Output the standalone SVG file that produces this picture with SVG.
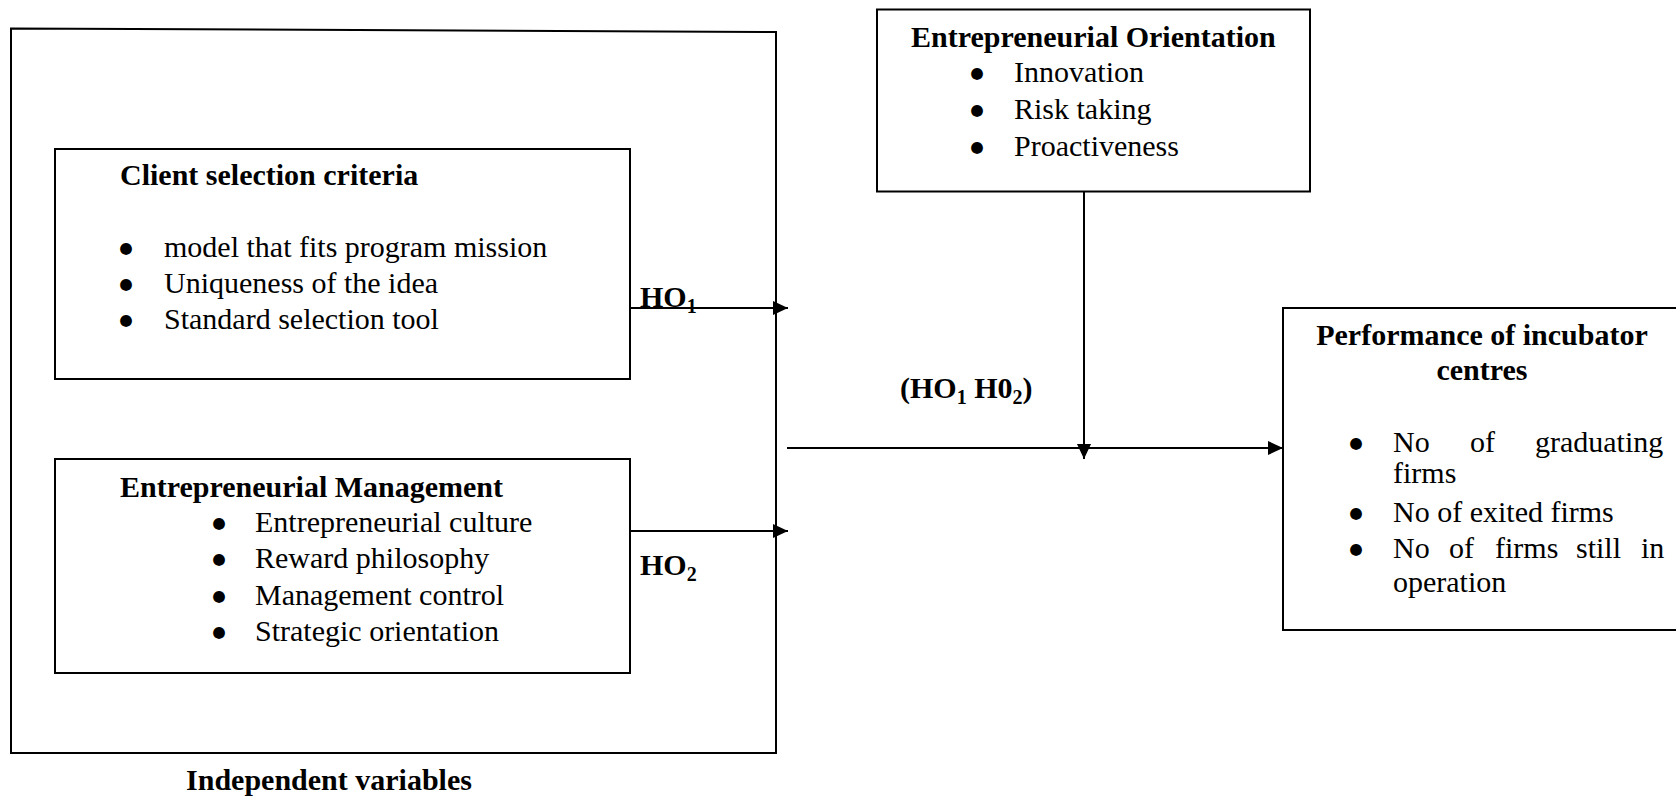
<svg xmlns="http://www.w3.org/2000/svg" width="1676" height="800" viewBox="0 0 1676 800">
  <style>
    text { font-family: "Liberation Serif", "Times New Roman", serif; font-size: 30px; fill: #000; }
    .b { font-weight: bold; }
    .sub { font-size: 20px; }
    .mid { text-anchor: middle; }
    .bul { font-family: "DejaVu Sans", sans-serif; font-size: 15.5px; text-anchor: middle; }
    .box { fill: #fff; stroke: #000; stroke-width: 2; }
    .frame { fill: none; stroke: #000; stroke-width: 2; }
    .link { fill: none; stroke: #000; stroke-width: 2; }
  </style>
  <defs>
    <marker id="arrow" markerUnits="userSpaceOnUse" markerWidth="16" markerHeight="14" refX="15" refY="7" orient="auto">
      <path d="M0,0 L15,7 L0,14 Z" fill="#000"/>
    </marker>
  </defs>

  <rect width="1676" height="800" fill="#fff"/>

  <!-- Independent variables frame -->
  <g id="independent-variables">
    <path class="frame" d="M11,28.5 L776,32 L776,753 L11,753 Z"/>
    <text class="b mid" x="329" y="790">Independent variables</text>
  </g>

  <!-- Client selection criteria -->
  <g id="client-selection">
    <rect class="box" x="55" y="149" width="575" height="230"/>
    <text class="b" x="120" y="185">Client selection criteria</text>
    <text class="bul" x="126" y="253">●</text>
    <text x="164" y="257">model that fits program mission</text>
    <text class="bul" x="126" y="289">●</text>
    <text x="164" y="293">Uniqueness of the idea</text>
    <text class="bul" x="126" y="325">●</text>
    <text x="164" y="329">Standard selection tool</text>
  </g>

  <!-- Entrepreneurial Management -->
  <g id="entrepreneurial-management">
    <rect class="box" x="55" y="459" width="575" height="214"/>
    <text class="b" x="120" y="497">Entrepreneurial Management</text>
    <text class="bul" x="219" y="528">●</text>
    <text x="255" y="532">Entrepreneurial culture</text>
    <text class="bul" x="219" y="564">●</text>
    <text x="255" y="568">Reward philosophy</text>
    <text class="bul" x="219" y="601">●</text>
    <text x="255" y="605">Management control</text>
    <text class="bul" x="219" y="637">●</text>
    <text x="255" y="641">Strategic orientation</text>
  </g>

  <!-- Entrepreneurial Orientation (moderator) -->
  <g id="entrepreneurial-orientation">
    <rect class="box" x="877" y="9.5" width="433" height="182"/>
    <text class="b" x="911" y="47">Entrepreneurial Orientation</text>
    <text class="bul" x="977" y="78">●</text>
    <text x="1014" y="82">Innovation</text>
    <text class="bul" x="977" y="115">●</text>
    <text x="1014" y="119">Risk taking</text>
    <text class="bul" x="977" y="152">●</text>
    <text x="1014" y="156">Proactiveness</text>
  </g>

  <!-- Performance of incubator centres -->
  <g id="performance">
    <rect class="box" x="1283" y="308" width="400" height="322"/>
    <text class="b mid" x="1482" y="345">Performance of incubator</text>
    <text class="b mid" x="1482" y="380">centres</text>
    <text class="bul" x="1356" y="448">●</text>
    <text y="452"><tspan x="1393">No</tspan><tspan x="1470">of</tspan><tspan x="1535">graduating</tspan></text>
    <text x="1393" y="483">firms</text>
    <text class="bul" x="1356" y="518">●</text>
    <text x="1393" y="522">No of exited firms</text>
    <text class="bul" x="1356" y="554">●</text>
    <text y="558"><tspan x="1393">No</tspan><tspan x="1449">of</tspan><tspan x="1495">firms</tspan><tspan x="1576">still</tspan><tspan x="1641">in</tspan></text>
    <text x="1393" y="592">operation</text>
  </g>

  <!-- Connectors -->
  <g id="connectors">
    <line class="link" x1="630" y1="308" x2="788" y2="308" marker-end="url(#arrow)"/>
    <line class="link" x1="630" y1="531" x2="788" y2="531" marker-end="url(#arrow)"/>
    <line class="link" x1="787" y1="448" x2="1283" y2="448" marker-end="url(#arrow)"/>
    <line class="link" x1="1084" y1="191.5" x2="1084" y2="459" marker-end="url(#arrow)"/>
  </g>

  <!-- Hypothesis labels -->
  <g id="labels">
    <text class="b" x="640" y="307">HO<tspan class="sub" dy="6">1</tspan></text>
    <text class="b" x="640" y="575">HO<tspan class="sub" dy="6">2</tspan></text>
    <text class="b" x="900" y="398">(HO<tspan class="sub" dy="6">1</tspan><tspan dy="-6"> H0</tspan><tspan class="sub" dy="6">2</tspan><tspan dy="-6">)</tspan></text>
  </g>
</svg>
